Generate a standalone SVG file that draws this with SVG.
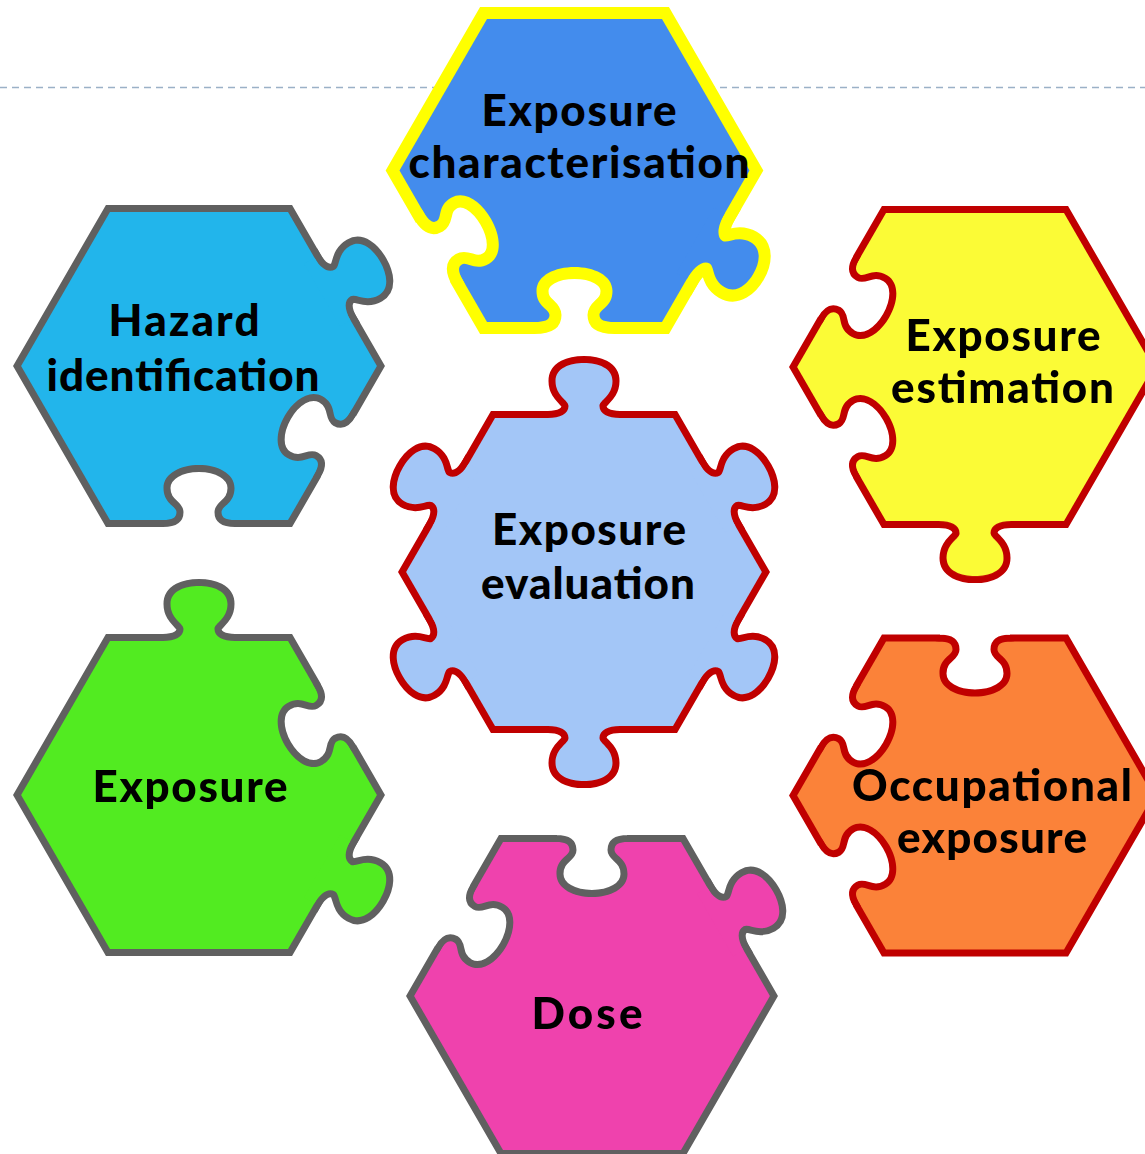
<svg xmlns="http://www.w3.org/2000/svg" width="1145" height="1154" viewBox="0 0 1145 1154">
<style>
 text { font-family: Lato, "Open Sans", "Liberation Sans", sans-serif; font-weight: 900; font-size: 44px; fill: #000; text-anchor: middle; }
 .ol-gray { fill:#606060; stroke:#606060; stroke-width:14; }
 .ol-red { fill:#c00000; stroke:#c00000; stroke-width:14; }
 .ol-yel { fill:#ffff00; stroke:#ffff00; stroke-width:24; }
 .cut { fill:#000; }
 .cut7 { fill:#000; stroke:#fff; stroke-width:14; }
 .cut12 { fill:#000; stroke:#fff; stroke-width:24; }
 .dash { fill:none; stroke:#9bb1c7; stroke-width:1.5; stroke-dasharray:7 5; }
</style>
<defs>
 <polygon id="hex7" points="-89,-154.1 89,-154.1 177.9,0 89,154.1 -89,154.1 -177.9,0"/>
 <polygon id="hex12" points="-87.5,-151.5 87.5,-151.5 175,0 87.5,151.5 -87.5,151.5 -175,0"/>
 <path id="tab7" d="M -36 12 L -36 0 C -24 0 -15.5 -4 -15.5 -12 C -15.5 -18 -28.5 -22 -28.5 -37 C -28.5 -50 -14 -55 0 -55 C 14 -55 28.5 -50 28.5 -37 C 28.5 -22 15.5 -18 15.5 -12 C 15.5 -4 24 0 36 0 L 36 12 Z"/>
 <path id="blank7" d="M -42 -20 L -42 -3 C -42 -1 -40 0 -36 0 C -27 0 -22.5 2 -22.5 8 C -22.5 14 -35.5 16 -35.5 32 C -35.5 47 -18 55 0 55 C 18 55 35.5 47 35.5 32 C 35.5 16 22.5 14 22.5 8 C 22.5 2 27 0 36 0 C 40 0 42 -1 42 -3 L 42 -20 Z"/>
 <path id="tab12" d="M -38 12 L -38 0 C -25 0 -13 -4 -13 -12 C -13 -18 -26 -22 -26 -37 C -26 -50 -13 -55 0 -55 C 13 -55 26 -50 26 -37 C 26 -22 13 -18 13 -12 C 13 -4 25 0 38 0 L 38 12 Z"/>
 <path id="blank12" d="M -46 -30 L -46 -3 C -46 -1 -44 0 -40 0 C -30 0 -25 2 -25 7 C -25 13 -38 15 -38 31 C -38 47 -19 55 0 55 C 19 55 38 47 38 31 C 38 15 25 13 25 7 C 25 2 30 0 40 0 C 44 0 46 -1 46 -3 L 46 -30 Z"/>

 <mask id="ch-m1" maskUnits="userSpaceOnUse" x="0" y="0" width="1145" height="1154">
  <rect width="1145" height="1154" fill="#fff"/>
  <g transform="translate(574.5 170.5)">
   <use href="#blank12" class="cut12" transform="rotate(180) translate(0 -151.5)"/>
   <use href="#blank12" class="cut12" transform="rotate(240) translate(0 -151.5)"/>
  </g>
 </mask>
 <mask id="ch-m2" maskUnits="userSpaceOnUse" x="0" y="0" width="1145" height="1154">
  <rect width="1145" height="1154" fill="#fff"/>
  <g transform="translate(574.5 170.5)">
   <use href="#blank12" class="cut" transform="rotate(180) translate(0 -151.5)"/>
   <use href="#blank12" class="cut" transform="rotate(240) translate(0 -151.5)"/>
  </g>
 </mask>

 <mask id="hz-m1" maskUnits="userSpaceOnUse" x="0" y="0" width="1145" height="1154">
  <rect width="1145" height="1154" fill="#fff"/>
  <g transform="translate(199 366)">
   <use href="#blank7" class="cut7" transform="rotate(120) translate(0 -154.1)"/>
   <use href="#blank7" class="cut7" transform="rotate(180) translate(0 -154.1)"/>
  </g>
 </mask>
 <mask id="hz-m2" maskUnits="userSpaceOnUse" x="0" y="0" width="1145" height="1154">
  <rect width="1145" height="1154" fill="#fff"/>
  <g transform="translate(199 366)">
   <use href="#blank7" class="cut" transform="rotate(120) translate(0 -154.1)"/>
   <use href="#blank7" class="cut" transform="rotate(180) translate(0 -154.1)"/>
  </g>
 </mask>

 <mask id="es-m1" maskUnits="userSpaceOnUse" x="0" y="0" width="1145" height="1154">
  <rect width="1145" height="1154" fill="#fff"/>
  <g transform="translate(975 367)">
   <use href="#blank7" class="cut7" transform="rotate(240) translate(0 -154.1)"/>
   <use href="#blank7" class="cut7" transform="rotate(300) translate(0 -154.1)"/>
  </g>
 </mask>
 <mask id="es-m2" maskUnits="userSpaceOnUse" x="0" y="0" width="1145" height="1154">
  <rect width="1145" height="1154" fill="#fff"/>
  <g transform="translate(975 367)">
   <use href="#blank7" class="cut" transform="rotate(240) translate(0 -154.1)"/>
   <use href="#blank7" class="cut" transform="rotate(300) translate(0 -154.1)"/>
  </g>
 </mask>

 <mask id="oc-m1" maskUnits="userSpaceOnUse" x="0" y="0" width="1145" height="1154">
  <rect width="1145" height="1154" fill="#fff"/>
  <g transform="translate(975 795.5)">
   <use href="#blank7" class="cut7" transform="translate(0 -154.1)"/>
   <use href="#blank7" class="cut7" transform="rotate(240) translate(0 -154.1)"/>
   <use href="#blank7" class="cut7" transform="rotate(300) translate(0 -154.1)"/>
  </g>
 </mask>
 <mask id="oc-m2" maskUnits="userSpaceOnUse" x="0" y="0" width="1145" height="1154">
  <rect width="1145" height="1154" fill="#fff"/>
  <g transform="translate(975 795.5)">
   <use href="#blank7" class="cut" transform="translate(0 -154.1)"/>
   <use href="#blank7" class="cut" transform="rotate(240) translate(0 -154.1)"/>
   <use href="#blank7" class="cut" transform="rotate(300) translate(0 -154.1)"/>
  </g>
 </mask>

 <mask id="ex-m1" maskUnits="userSpaceOnUse" x="0" y="0" width="1145" height="1154">
  <rect width="1145" height="1154" fill="#fff"/>
  <g transform="translate(199 795)">
   <use href="#blank7" class="cut7" transform="rotate(60) translate(0 -154.1)"/>
  </g>
 </mask>
 <mask id="ex-m2" maskUnits="userSpaceOnUse" x="0" y="0" width="1145" height="1154">
  <rect width="1145" height="1154" fill="#fff"/>
  <g transform="translate(199 795)">
   <use href="#blank7" class="cut" transform="rotate(60) translate(0 -154.1)"/>
  </g>
 </mask>

 <mask id="do-m1" maskUnits="userSpaceOnUse" x="0" y="0" width="1145" height="1154">
  <rect width="1145" height="1154" fill="#fff"/>
  <g transform="translate(592 996)">
   <use href="#blank7" class="cut7" transform="translate(0 -154.1)"/>
   <use href="#blank7" class="cut7" transform="rotate(300) translate(0 -154.1)"/>
  </g>
 </mask>
 <mask id="do-m2" maskUnits="userSpaceOnUse" x="0" y="0" width="1145" height="1154">
  <rect width="1145" height="1154" fill="#fff"/>
  <g transform="translate(592 996)">
   <use href="#blank7" class="cut" transform="translate(0 -154.1)"/>
   <use href="#blank7" class="cut" transform="rotate(300) translate(0 -154.1)"/>
  </g>
 </mask>
</defs>

<rect width="1145" height="1154" fill="#fff"/>

<g id="connectors">
 <line class="dash" x1="0" y1="87.5" x2="1145" y2="87.5"/>
</g>

<g id="exposure-characterisation">
 <g mask="url(#ch-m1)" class="ol-yel">
  <g transform="translate(574.5 170.5)">
   <use href="#hex12"/>
   <use href="#tab12" transform="rotate(120) translate(0 -151.5)"/>
  </g>
 </g>
 <g mask="url(#ch-m2)" fill="#438ced">
  <g transform="translate(574.5 170.5)">
   <use href="#hex12"/>
   <use href="#tab12" transform="rotate(120) translate(0 -151.5)"/>
  </g>
 </g>
 <text x="579" y="126" textLength="195" lengthAdjust="spacing">Exposure</text>
 <text x="579" y="178" textLength="341" lengthAdjust="spacing">characterisation</text>
</g>

<g id="hazard-identification">
 <g mask="url(#hz-m1)" class="ol-gray">
  <g transform="translate(199 366)">
   <use href="#hex7"/>
   <use href="#tab7" transform="rotate(60) translate(0 -154.1)"/>
  </g>
 </g>
 <g mask="url(#hz-m2)" fill="#22b5eb">
  <g transform="translate(199 366)">
   <use href="#hex7"/>
   <use href="#tab7" transform="rotate(60) translate(0 -154.1)"/>
  </g>
 </g>
 <text x="184" y="336" textLength="151" lengthAdjust="spacing">Hazard</text>
 <text x="183" y="391" textLength="273" lengthAdjust="spacing">identification</text>
</g>

<g id="exposure-evaluation">
 <g class="ol-red">
  <g transform="translate(584 572)">
   <use href="#hex7"/>
   <use href="#tab7" transform="translate(0 -154.1)"/>
   <use href="#tab7" transform="rotate(60) translate(0 -154.1)"/>
   <use href="#tab7" transform="rotate(120) translate(0 -154.1)"/>
   <use href="#tab7" transform="rotate(180) translate(0 -154.1)"/>
   <use href="#tab7" transform="rotate(240) translate(0 -154.1)"/>
   <use href="#tab7" transform="rotate(300) translate(0 -154.1)"/>
  </g>
 </g>
 <g fill="#a3c6f7">
  <g transform="translate(584 572)">
   <use href="#hex7"/>
   <use href="#tab7" transform="translate(0 -154.1)"/>
   <use href="#tab7" transform="rotate(60) translate(0 -154.1)"/>
   <use href="#tab7" transform="rotate(120) translate(0 -154.1)"/>
   <use href="#tab7" transform="rotate(180) translate(0 -154.1)"/>
   <use href="#tab7" transform="rotate(240) translate(0 -154.1)"/>
   <use href="#tab7" transform="rotate(300) translate(0 -154.1)"/>
  </g>
 </g>
 <text x="589" y="545" textLength="194" lengthAdjust="spacing">Exposure</text>
 <text x="588" y="599" textLength="214" lengthAdjust="spacing">evaluation</text>
</g>

<g id="exposure-estimation">
 <g mask="url(#es-m1)" class="ol-red">
  <g transform="translate(975 367)">
   <use href="#hex7"/>
   <use href="#tab7" transform="rotate(180) translate(0 -154.1)"/>
  </g>
 </g>
 <g mask="url(#es-m2)" fill="#fbfb36">
  <g transform="translate(975 367)">
   <use href="#hex7"/>
   <use href="#tab7" transform="rotate(180) translate(0 -154.1)"/>
  </g>
 </g>
 <text x="1003" y="351" textLength="195" lengthAdjust="spacing">Exposure</text>
 <text x="1002.5" y="403" textLength="223" lengthAdjust="spacing">estimation</text>
</g>

<g id="occupational-exposure">
 <g mask="url(#oc-m1)" class="ol-red">
  <g transform="translate(975 795.5)">
   <use href="#hex7"/>
  </g>
 </g>
 <g mask="url(#oc-m2)" fill="#fb8239">
  <g transform="translate(975 795.5)">
   <use href="#hex7"/>
  </g>
 </g>
 <text x="992" y="801" textLength="280" lengthAdjust="spacing">Occupational</text>
 <text x="992" y="853" textLength="190" lengthAdjust="spacing">exposure</text>
</g>

<g id="exposure">
 <g mask="url(#ex-m1)" class="ol-gray">
  <g transform="translate(199 795)">
   <use href="#hex7"/>
   <use href="#tab7" transform="translate(0 -154.1)"/>
   <use href="#tab7" transform="rotate(120) translate(0 -154.1)"/>
  </g>
 </g>
 <g mask="url(#ex-m2)" fill="#52eb21">
  <g transform="translate(199 795)">
   <use href="#hex7"/>
   <use href="#tab7" transform="translate(0 -154.1)"/>
   <use href="#tab7" transform="rotate(120) translate(0 -154.1)"/>
  </g>
 </g>
 <text x="190" y="802" textLength="195" lengthAdjust="spacing">Exposure</text>
</g>

<g id="dose">
 <g mask="url(#do-m1)" class="ol-gray">
  <g transform="translate(592 996)">
   <use href="#hex7"/>
   <use href="#tab7" transform="rotate(60) translate(0 -154.1)"/>
  </g>
 </g>
 <g mask="url(#do-m2)" fill="#ef42ad">
  <g transform="translate(592 996)">
   <use href="#hex7"/>
   <use href="#tab7" transform="rotate(60) translate(0 -154.1)"/>
  </g>
 </g>
 <text x="587" y="1029" textLength="111" lengthAdjust="spacing">Dose</text>
</g>
</svg>
